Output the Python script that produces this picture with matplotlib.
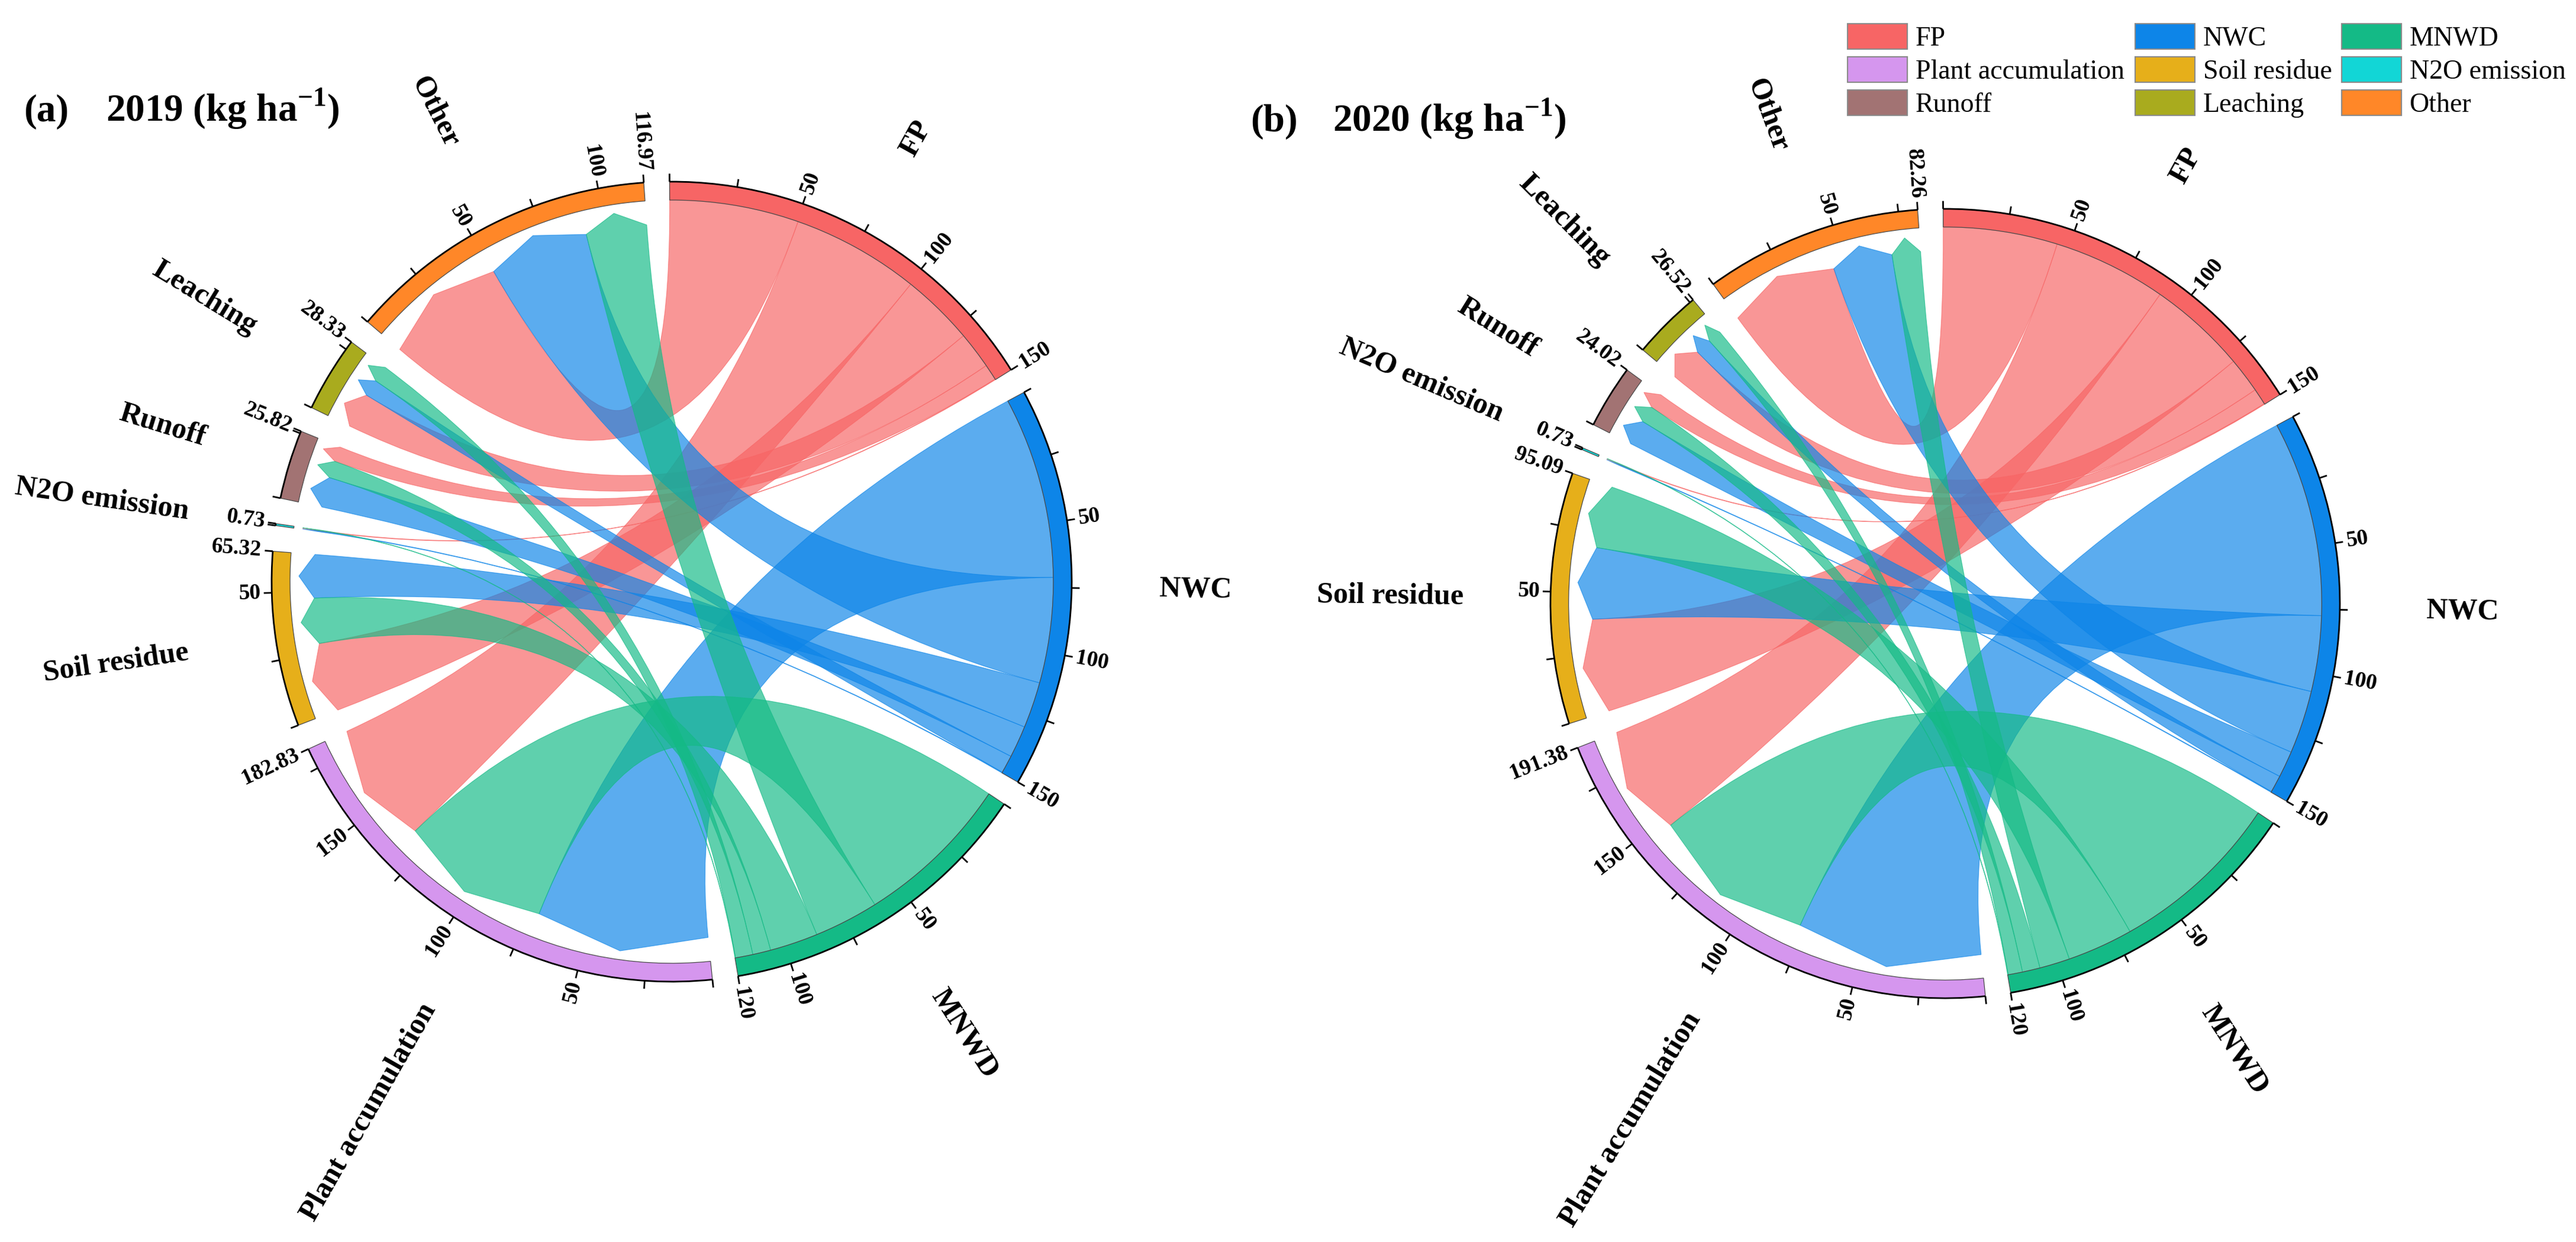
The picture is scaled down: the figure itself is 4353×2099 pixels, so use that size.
import numpy as np
import matplotlib
matplotlib.use("Agg")
import matplotlib.pyplot as plt
from matplotlib.patches import Wedge, PathPatch, Patch, Arc
from matplotlib.path import Path

plt.rcParams['font.family'] = ['Liberation Serif', 'DejaVu Serif']
plt.rcParams['mathtext.fontset'] = 'custom'
plt.rcParams['mathtext.rm'] = 'Liberation Serif:bold'
plt.rcParams['mathtext.bf'] = 'Liberation Serif:bold'

# ===============================
# DATA (kg ha-1)
# ===============================
sources = ["FP", "NWC", "MNWD"]
targets = ["Plant accumulation", "Soil residue", "N2O emission",
           "Runoff", "Leaching", "Other"]

# rows = sources, columns = targets
flows_2019 = np.array([
    [50.00, 28.50, 0.25, 6.25, 14.50, 50.50],
    [71.00, 18.00, 0.28, 12.50, 7.00, 41.22],
    [61.83, 18.82, 0.20, 7.07, 6.83, 25.25],
])
flows_2020 = np.array([
    [45.00, 39.00, 0.25, 6.50, 14.00, 45.25],
    [77.42, 30.00, 0.28, 10.50, 6.80, 25.00],
    [68.96, 26.09, 0.20, 7.02, 5.72, 12.01],
])

colors = {
    "FP": "#F76565", "NWC": "#0D85E8", "MNWD": "#14BA86",
    "Plant accumulation": "#D596EE", "Soil residue": "#E6AF1A",
    "N2O emission": "#12D6D6", "Runoff": "#A27373",
    "Leaching": "#A9AB1E", "Other": "#FF8728",
}
legend_cols = [["FP", "Plant accumulation", "Runoff"],
               ["NWC", "Soil residue", "Leaching"],
               ["MNWD", "N2O emission", "Other"]]

# ===============================
# GEOMETRY
# ===============================
START = 90.3
GAP = 3.7
R_OUT = 1.0
TRACK_W = 0.046
R_SRC = R_OUT - TRACK_W
R_TGT = R_SRC - 0.06
ARROW_H = 0.038


def pol(a, r):
    t = np.deg2rad(a)
    return (r * np.cos(t), r * np.sin(t))


def text_rot(a):
    a = (a + 180) % 360 - 180
    if -90 <= a <= 90:
        return a, 'left'
    return (a - 180 if a > 0 else a + 180), 'right'


def ribbon(s_hi, s_lo, t_hi, t_lo):
    verts, codes = [], []
    n = max(int(abs(s_hi - s_lo) * 3) + 2, 2)
    for k, a in enumerate(np.linspace(s_hi, s_lo, n)):
        verts.append(pol(a, R_SRC))
        codes.append(Path.MOVETO if k == 0 else Path.LINETO)
    verts += [(0, 0), pol(t_hi, R_TGT)]
    codes += [Path.CURVE3, Path.CURVE3]
    verts.append(pol((t_hi + t_lo) / 2, R_TGT + ARROW_H))
    codes.append(Path.LINETO)
    verts.append(pol(t_lo, R_TGT))
    codes.append(Path.LINETO)
    verts += [(0, 0), pol(s_hi, R_SRC)]
    codes += [Path.CURVE3, Path.CURVE3]
    verts.append(pol(s_hi, R_SRC))
    codes.append(Path.CLOSEPOLY)
    return Path(verts, codes)


def draw_chord(ax, flows):
    src_tot = flows.sum(axis=1)
    tgt_tot = flows.sum(axis=0)
    names = sources + targets
    totals = list(src_tot) + list(tgt_tot)
    unit = (360 - GAP * len(names)) / float(np.sum(totals))

    start, end = {}, {}
    theta = START
    for nm, tot in zip(names, totals):
        start[nm] = theta
        end[nm] = theta - tot * unit
        theta = end[nm] - GAP

    # link positions, sorted by decreasing width inside each sector
    pos_s, pos_t = {}, {}
    for i, s in enumerate(sources):
        cum = 0.0
        for j in np.argsort(-flows[i], kind='stable'):
            v = flows[i, j]
            pos_s[(i, j)] = (start[s] - cum * unit, start[s] - (cum + v) * unit)
            cum += v
    for j, t in enumerate(targets):
        cum = 0.0
        for i in np.argsort(-flows[:, j], kind='stable'):
            v = flows[i, j]
            pos_t[(i, j)] = (start[t] - cum * unit, start[t] - (cum + v) * unit)
            cum += v

    for i, s in enumerate(sources):
        for j in range(len(targets)):
            s_hi, s_lo = pos_s[(i, j)]
            t_hi, t_lo = pos_t[(i, j)]
            p = PathPatch(ribbon(s_hi, s_lo, t_hi, t_lo),
                          facecolor=colors[s], alpha=0.68,
                          edgecolor=colors[s], lw=0.8, zorder=2)
            ax.add_patch(p)

    for nm, tot in zip(names, totals):
        a0, a1 = start[nm], end[nm]
        ax.add_patch(Wedge((0, 0), R_OUT, a1, a0, width=TRACK_W,
                           facecolor=colors[nm], edgecolor='#4a4a4a',
                           lw=0.9, zorder=3))
        ax.add_patch(Arc((0, 0), 2 * R_OUT, 2 * R_OUT, theta1=a1, theta2=a0,
                         color='black', lw=2.0, zorder=4))
        tot_r = round(tot, 2)
        ticks = [0.0] + list(np.arange(25, tot_r, 25)) + [tot_r]
        for v in ticks:
            a = a0 - v * unit
            x0, y0 = pol(a, R_OUT)
            x1, y1 = pol(a, R_OUT + 0.02)
            ax.plot([x0, x1], [y0, y1], color='black', lw=2.0, zorder=4,
                    solid_capstyle='butt')
            show = (v == tot_r) or (v > 0 and v % 50 == 0 and tot_r - v > 8)
            if show:
                rot, ha = text_rot(a)
                xt, yt = pol(a, R_OUT + 0.028)
                ax.text(xt, yt, f"{tot_r:g}" if v == tot_r else f"{int(v)}",
                        rotation=rot, ha=ha, va='center',
                        rotation_mode='anchor', fontsize=27,
                        fontweight='bold')
        mid = (a0 + a1) / 2
        rot, ha = text_rot(mid)
        xt, yt = pol(mid, 1.22)
        ax.text(xt, yt, nm, rotation=rot, ha=ha, va='center',
                rotation_mode='anchor', fontsize=36, fontweight='bold')

    ax.set_xlim(-1.45, 1.45)
    ax.set_ylim(-1.45, 1.45)
    ax.set_aspect('equal')
    ax.axis('off')


# ===============================
# FIGURE
# ===============================
W, H = 4353, 2099
fig = plt.figure(figsize=(W / 100, H / 100), dpi=100)

panels = [((1135, 983, 676), flows_2019), ((3287, 1020, 667), flows_2020)]
for (cx, cy, r_px), flows in panels:
    half = 1.45 * r_px
    ax = fig.add_axes([(cx - half) / W, (H - cy - half) / H,
                       2 * half / W, 2 * half / H])
    draw_chord(ax, flows)

fig.text(40 / W, 1 - 205 / H, "(a)", fontsize=47, fontweight='bold',
         va='baseline')
fig.text(179 / W, 1 - 205 / H, r"2019 (kg ha$^{-1}$)", fontsize=47,
         fontweight='bold', va='baseline')
fig.text(2113 / W, 1 - 222 / H, "(b)", fontsize=47, fontweight='bold',
         va='baseline')
fig.text(2252 / W, 1 - 222 / H, r"2020 (kg ha$^{-1}$)", fontsize=47,
         fontweight='bold', va='baseline')

# legend: three columns
for x0, col in zip([3122, 3608, 3957], legend_cols):
    handles = [Patch(facecolor=colors[n], edgecolor='#8a8a8a', lw=1.5)
               for n in col]
    fig.legend(handles, col, loc='upper left',
               bbox_to_anchor=(x0 / W, 1 - 40 / H), frameon=False,
               prop={'family': 'Liberation Serif', 'size': 33},
               handlelength=2.2, handleheight=1.05,
               labelspacing=0.2, handletextpad=0.3,
               borderaxespad=0.0, borderpad=0.0)

fig.savefig("out.png", dpi=100, facecolor='white')
